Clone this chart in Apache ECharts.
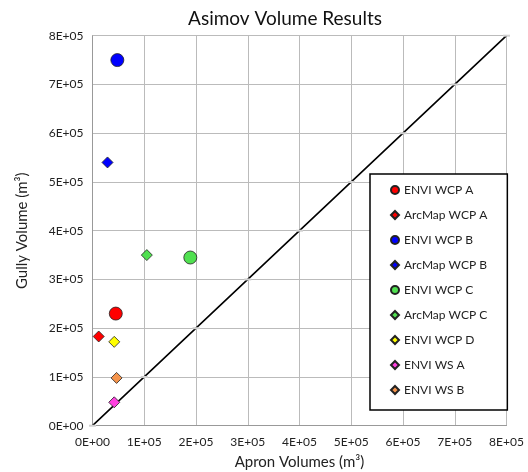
<!DOCTYPE html>
<html><head><meta charset="utf-8">
<script src="https://cdn.jsdelivr.net/npm/echarts@6/dist/echarts.min.js"></script>
<style>html,body{margin:0;padding:0;background:#fff}#c{width:528px;height:472px}</style>
</head><body><div id="c"></div>
<script>
const seriesNames = ['ENVI WCP A','ArcMap WCP A','ENVI WCP B','ArcMap WCP B','ENVI WCP C','ArcMap WCP C','ENVI WCP D','ENVI WS A','ENVI WS B'];
const apronValues = [45000, 12000, 48000, 29000, 189000, 105000, 42000, 42000, 46500];
const gullyValues = [230000, 183000, 750000, 540000, 345000, 350000, 172000, 48000, 98000];
const seriesColors = ['#ff0000','#ff0000','#0000ff','#0000ff','#50e050','#50e050','#ffff00','#ff40e0','#f5944c'];
const seriesShapes = ['circle','diamond','circle','diamond','circle','diamond','diamond','diamond','diamond'];
const oneToOne = [0,100000,200000,300000,400000,500000,600000,700000,800000];
const tickLabels = ['0E+00','1E+05','2E+05','3E+05','4E+05','5E+05','6E+05','7E+05','8E+05'];

const fontFam = 'Lato, "Open Sans", sans-serif';
const chart = echarts.init(document.getElementById('c'));
const fmt = v => tickLabels[Math.round(v/100000)] || '';

const series = [{
  name: '1:1', type: 'line', data: oneToOne.map(v => [v, v]),
  lineStyle: {color: '#000', width: 1.6}, symbol: 'rect', symbolSize: [7, 2],
  itemStyle: {color: '#d0d0d0'}, showSymbol: true, silent: true, z: 1
}];
seriesNames.forEach((n, i) => {
  series.push({
    name: n, type: 'scatter', data: [[apronValues[i], gullyValues[i]]],
    symbol: seriesShapes[i], symbolSize: seriesShapes[i] === 'circle' ? 13 : 11,
    itemStyle: {color: seriesColors[i], borderColor: '#222', borderWidth: 0.8, opacity: 1}, z: 3
  });
});

chart.setOption({
  animation: false,
  title: {text: 'Asimov Volume Results', left: 280, top: 4, textAlign: 'center',
    textStyle: {fontFamily: fontFam, fontSize: 19, fontWeight: 'normal', color: '#111'}},
  grid: {left: 92.5, right: 21.5, top: 35.7, bottom: 46.3, containLabel: false, outerBoundsMode: 'none'},
  legend: {
    data: seriesNames.map((n, i) => ({name: n, icon: seriesShapes[i]})),
    orient: 'vertical', left: 370, top: 174,
    itemWidth: 8, itemHeight: 8, itemGap: 13,
    padding: [10, 20, 14, 20], borderColor: '#000', borderWidth: 1.5,
    backgroundColor: '#fff',
    textStyle: {fontFamily: fontFam, fontSize: 12, color: '#222'}
  },
  xAxis: {
    type: 'value', min: 0, max: 800000, interval: 100000,
    name: 'Apron Volumes (m³)', nameLocation: 'middle', nameGap: 29,
    nameTextStyle: {fontFamily: fontFam, fontSize: 15, color: '#222'},
    axisLine: {show: true, lineStyle: {color: '#999'}}, axisTick: {show: false},
    axisLabel: {formatter: fmt, fontFamily: fontFam, fontSize: 12, color: '#222', margin: 10},
    splitLine: {show: true, lineStyle: {color: '#bbb'}}
  },
  yAxis: {
    type: 'value', min: 0, max: 800000, interval: 100000,
    name: 'Gully Volume (m³)', nameLocation: 'middle', nameGap: 63,
    nameTextStyle: {fontFamily: fontFam, fontSize: 15, color: '#222'},
    axisLine: {show: true, lineStyle: {color: '#999'}}, axisTick: {show: false},
    axisLabel: {formatter: fmt, fontFamily: fontFam, fontSize: 12, color: '#222', margin: 9},
    splitLine: {show: true, lineStyle: {color: '#bbb'}}
  },
  series: series
});
</script></body></html>
